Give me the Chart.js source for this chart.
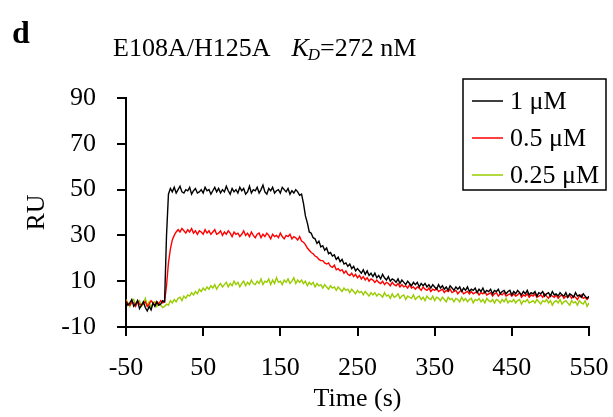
<!DOCTYPE html>
<html>
<head>
<meta charset="utf-8">
<script src="https://cdn.jsdelivr.net/npm/chart.js@4.4.0/dist/chart.umd.min.js"></script>
<style>
  html, body { margin: 0; padding: 0; background: #fff; }
  #chartContainer { width: 613px; height: 417px; }
</style>
</head>
<body>
<div id="chartContainer"><canvas id="myChart" width="613" height="417"></canvas></div>
<script>
// Sensorgram: one reading every 2.5 s, starting at -50 s.
var timeStart = -50;
var timeStep = 2.5;

var seriesLabels = ["1 \u03bcM", "0.5 \u03bcM", "0.25 \u03bcM"];
var seriesColors = ["#000000", "#ff0000", "#99cc00"];

// 1 uM
var ru1uM = [
  // baseline -50 .. -2.5
  1, -0.5, 0.5, 2, -1, 0, 1.5, -2, -0.5, 1,
  -1.5, -3, -1, -2.5, 0.5, -1, 1, -0.5, 0, 1.5,
  // injection at 0
  1,
  // association 2.5 .. 177.5
  30, 48,
  50.5, 49, 51, 48.5, 50, 51.5, 49, 48.5, 50, 49.5,
  51, 48, 49.5, 50.5, 48.5, 49, 50, 48.5, 51, 49.5,
  50, 48, 49.5, 51, 49, 50.5, 48.5, 50, 49, 51.5,
  49.5, 48, 50.5, 49, 50, 48.5, 51, 49.5, 50.5, 48,
  49, 51.5, 48.5, 50, 49.5, 51, 48.5, 50, 52, 49,
  48, 50.5, 49.5, 51, 48.5, 49.5, 50, 48.5, 51, 50,
  49, 50.5, 48, 49.5, 48.5, 50, 49, 47.5, 48,
  // dissociation 180 .. 550
  44, 38.5, 35.5, 31.5, 31, 29, 28.5, 26.5, 27.5, 25,
  25.5, 23.5, 24.5, 22, 22.5, 21, 21.5, 19.5, 20.5, 18.5,
  19.5, 17.5, 18, 16.5, 17.5, 15.5, 16.5, 14.5, 15.5, 14.5,
  13.5, 15, 13, 14.5, 12.5, 13.5, 12, 13.5, 11.5, 12.5,
  11, 13, 11.5, 10.5, 12, 10, 11, 10.5, 9.5, 11,
  9, 10.5, 9.5, 8.5, 10, 9, 8, 9.5, 8.5, 9.5,
  7.5, 9, 8, 9, 7.5, 8.5, 7, 8.5, 7.5, 6.5,
  8.5, 7, 8, 6.5, 7.5, 6, 8, 7, 6, 7.5,
  6.5, 7.5, 5.5, 7, 6, 7.5, 5.5, 6.5, 6, 7,
  5, 6.5, 5.5, 7, 5, 6, 5.5, 6.5, 4.5, 6,
  5.5, 6.5, 4.5, 5.5, 6, 4.5, 5.5, 6, 4, 5.5,
  4.5, 6, 5, 4, 5.5, 4.5, 6, 4, 5, 4.5,
  5.5, 3.5, 5, 4.5, 5.5, 3.5, 4.5, 5, 3.5, 5.5,
  4, 4.5, 3.5, 5, 4, 3.5, 5, 3, 4.5, 4,
  3, 5, 3.5, 4, 3, 4.5, 3.5, 2.5, 3.5
];

// 0.5 uM
var ru05uM = [
  1.5, 0, -0.5, 1, 0.5, -1, 1.5, 0, -0.5, 0.5,
  1, -1, 0, 1.5, 0.5, -0.5, 1, 0, 1.5, 0.5,
  1,
  8, 18, 24, 28, 30, 31.5, 32.5,
  31.5, 33, 32, 31, 32.5, 31.5, 33, 31, 32, 30.5,
  32, 31.5, 30.5, 32.5, 31, 32, 30.5, 31.5, 32.5, 30.5,
  31, 32, 30, 31.5, 30.5, 32, 31, 29.5, 31.5, 30.5,
  31, 29.5, 30.5, 32, 30, 31, 29.5, 31.5, 30, 29,
  30.5, 31, 29, 30.5, 29.5, 31, 30, 28.5, 30.5, 29.5,
  30, 29, 31, 29.5, 28.5, 30, 29.5, 30.5, 28.5, 29.5,
  29, 28, 29.5, 27.5,
  27, 26, 24.5, 23.5, 22.5, 22, 21, 20.5, 19.5, 19,
  19, 18, 17.5, 18, 16.5, 16, 17, 15, 15.5, 14.5,
  15, 13.5, 14.5, 13, 12.5, 13.5, 12, 13, 11.5, 12.5,
  11, 12, 10.5, 11.5, 10, 11, 10.5, 9.5, 10.5, 9.5,
  9, 10, 8.5, 9.5, 9, 8, 9.5, 8.5, 8, 9,
  7.5, 8.5, 7.5, 8, 7, 8.5, 7, 7.5, 6.5, 7.5,
  7, 6, 7.5, 6.5, 6, 7, 5.5, 6.5, 6, 7,
  5.5, 6, 6.5, 5, 6, 5.5, 6.5, 5, 5.5, 6,
  4.5, 5.5, 6, 4.5, 5, 5.5, 4.5, 5.5, 4.5, 5,
  5.5, 4, 5, 4.5, 5.5, 4, 4.5, 5, 3.5, 4.5,
  5, 3.5, 4.5, 4, 5, 3.5, 4, 4.5, 3.5, 4.5,
  3.5, 4, 5, 3, 4, 3.5, 4.5, 3, 4, 3.5,
  4.5, 3, 3.5, 4, 3, 4.5, 3.5, 2.5, 4, 3.5,
  3, 4, 2.5, 3.5, 4, 2.5, 3.5, 3, 4, 2.5,
  3.5, 3, 2, 3.5, 4, 2.5, 3, 2, 3
];

// 0.25 uM
var ru025uM = [
  2, 0.5, -1, 1, 2, -0.5, 0.5, 1.5, -1, 0,
  2.5, -0.5, 1, -1.5, 0.5, 1, -1, 0.5, -0.5, -1.5,
  -1,
  0, -0.5, 1.5, 0.5, 2, 1, 2.5, 3, 1.5, 3.5,
  2.5, 4, 3.5, 5, 4, 5.5, 4.5, 6.5, 5.5, 7,
  6, 7.5, 6.5, 8, 7, 8.5, 6.5, 8, 9, 7.5,
  8.5, 9.5, 7.5, 9, 8, 10, 8.5, 9.5, 7.5, 9,
  10, 8, 9.5, 8.5, 10.5, 9, 8.5, 10, 9, 11,
  8.5, 10, 9.5, 11, 8.5, 10.5, 9, 11.5, 9.5, 10,
  8.5, 10.5, 9.5, 11, 9, 10, 11.5, 9, 10.5, 9.5,
  10.5,
  9, 10, 8, 9.5, 8.5, 9.5, 7.5, 9, 8, 8.5,
  7, 8.5, 7.5, 6.5, 8, 7, 7.5, 6, 7.5, 6.5,
  5.5, 7, 6, 6.5, 5, 6.5, 5.5, 4.5, 6, 5,
  5.5, 4, 5.5, 4.5, 3.5, 5, 4, 5, 3.5, 4.5,
  4, 3, 5, 3.5, 4, 2.5, 4.5, 3, 3.5, 4.5,
  2.5, 3.5, 4, 2, 3.5, 3, 2.5, 4, 2, 3,
  3.5, 2, 3, 1.5, 3.5, 2.5, 2, 3.5, 1.5, 3,
  2.5, 1.5, 3, 2, 1, 3, 2, 2.5, 1, 2.5,
  2, 1, 3, 1.5, 2.5, 1, 2, 2.5, 0.5, 2,
  1.5, 2.5, 1, 2, 0.5, 2.5, 1.5, 1, 2, 0.5,
  2, 1.5, 0.5, 2, 1, 2.5, 0.5, 1.5, 1, 2,
  0.5, 1.5, 2, 0, 1.5, 1, 2, 0.5, 1, 1.5,
  0.5, 2, 1, 0, 1.5, 1, 2, 0.5, 1.5, -0.5,
  1, 1.5, 0.5, 2, 0, 1, 1.5, 0.5, -0.5, 1.5,
  0.5, 1, -0.5, 1.5, 0.5, 0, 1.5, -1, 0.5
];

var xTicks = [-50, 50, 150, 250, 350, 450, 550];
var yTicks = [-10, 10, 30, 50, 70, 90];

var serif = "'Liberation Serif', 'Times New Roman', serif";

function toPoints(values) {
  return values.map((v, i) => ({ x: timeStart + i * timeStep, y: v }));
}

// Panel letter and title with italic K and subscript D.
var titlePlugin = {
  id: "panelTitle",
  afterDraw(chart) {
    var ctx = chart.ctx;
    ctx.save();
    ctx.fillStyle = "#000";
    ctx.textBaseline = "alphabetic";
    ctx.font = "bold 32px " + serif;
    ctx.fillText("d", 12, 43);

    var x = 113, y = 56;
    ctx.font = "26px " + serif;
    ctx.fillText("E108A/H125A", x, y);
    x += ctx.measureText("E108A/H125A").width + 21;
    ctx.font = "italic 26px " + serif;
    ctx.fillText("K", x, y);
    x += ctx.measureText("K").width - 1;
    ctx.font = "italic 17px " + serif;
    ctx.fillText("D", x, y + 4);
    x += ctx.measureText("D").width;
    ctx.font = "26px " + serif;
    ctx.fillText("=272 nM", x, y);
    ctx.restore();
  }
};

// Boxed legend sitting inside the top right corner of the plot.
var boxLegendPlugin = {
  id: "boxLegend",
  afterDraw(chart) {
    var ctx = chart.ctx;
    ctx.save();
    ctx.fillStyle = "#fff";
    ctx.fillRect(463, 79, 143, 111);
    ctx.strokeStyle = "#000";
    ctx.lineWidth = 1.5;
    ctx.strokeRect(463, 79, 143, 111);
    ctx.font = "26px " + serif;
    ctx.textBaseline = "middle";
    chart.data.datasets.forEach((ds, i) => {
      var rowY = 101 + i * 37;
      ctx.strokeStyle = ds.borderColor;
      ctx.lineWidth = 1.5;
      ctx.beginPath();
      ctx.moveTo(472, rowY);
      ctx.lineTo(503, rowY);
      ctx.stroke();
      ctx.fillStyle = "#000";
      ctx.fillText(ds.label, 510, rowY + 1);
    });
    ctx.restore();
  }
};

var ctx = document.getElementById("myChart");
var myChart = new Chart(ctx, {
  type: "line",
  data: {
    datasets: [
      { label: seriesLabels[0], data: toPoints(ru1uM), borderColor: seriesColors[0], borderWidth: 1.4, pointRadius: 0, fill: false, tension: 0 },
      { label: seriesLabels[1], data: toPoints(ru05uM), borderColor: seriesColors[1], borderWidth: 1.4, pointRadius: 0, fill: false, tension: 0 },
      { label: seriesLabels[2], data: toPoints(ru025uM), borderColor: seriesColors[2], borderWidth: 1.4, pointRadius: 0, fill: false, tension: 0 }
    ]
  },
  options: {
    responsive: false,
    animation: false,
    devicePixelRatio: 1,
    layout: { padding: { top: 98, right: 24, left: 0, bottom: 0 } },
    plugins: {
      legend: { display: false },
      tooltip: { enabled: false }
    },
    scales: {
      x: {
        type: "linear",
        min: -50,
        max: 550,
        afterBuildTicks: scale => { scale.ticks = xTicks.map(v => ({ value: v })); },
        afterFit: scale => { scale.height = 90; scale.paddingLeft = 0; scale.paddingRight = 0; },
        border: { display: true, color: "#000", width: 2 },
        grid: { drawOnChartArea: false, drawTicks: true, tickLength: 9, color: "#000", lineWidth: 2 },
        ticks: { color: "#000", font: { family: serif, size: 26 }, padding: 17, maxRotation: 0, autoSkip: false },
        title: { display: true, text: "Time (s)", color: "#000", font: { family: serif, size: 26 }, padding: { top: 0, bottom: 2 } }
      },
      y: {
        min: -10,
        max: 90,
        afterBuildTicks: scale => { scale.ticks = yTicks.map(v => ({ value: v })); },
        afterFit: scale => { scale.width = 126; scale.paddingTop = 0; scale.paddingBottom = 0; },
        border: { display: true, color: "#000", width: 2 },
        grid: { drawOnChartArea: false, drawTicks: true, tickLength: 9, color: "#000", lineWidth: 2 },
        ticks: { color: "#000", font: { family: serif, size: 26 }, padding: 21, autoSkip: false },
        title: { display: true, text: "RU", color: "#000", font: { family: serif, size: 26 }, padding: { top: 22, bottom: 0 } }
      }
    }
  },
  plugins: [titlePlugin, boxLegendPlugin]
});
</script>
</body>
</html>
